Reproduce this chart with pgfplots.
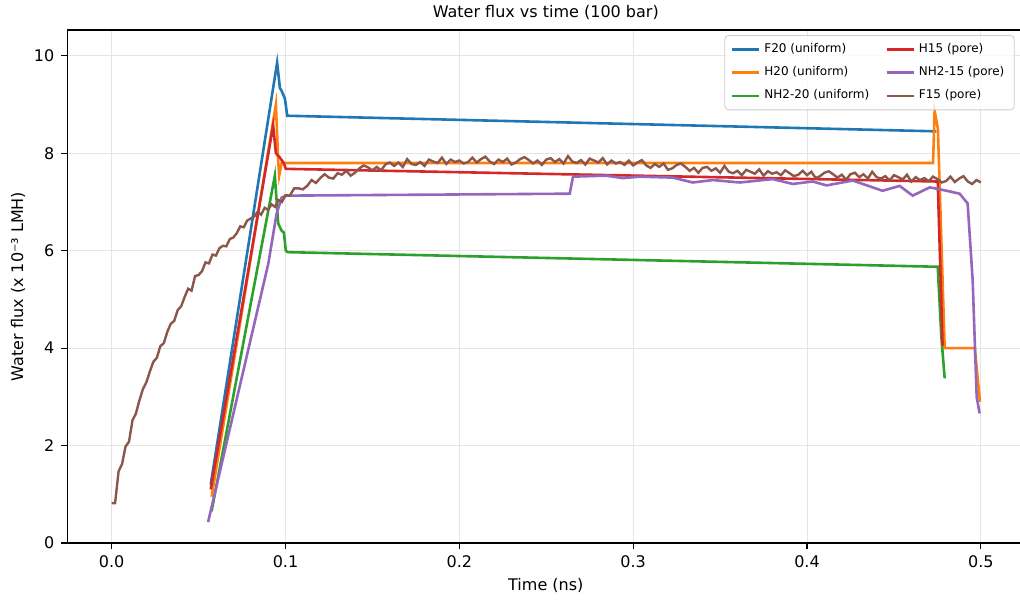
\documentclass[border=0pt]{standalone}
\usepackage{fontspec}
\setmainfont{DejaVu Sans}
\usepackage{pgfplots}
\pgfplotsset{compat=1.18}
\definecolor{tabblue}{HTML}{1F77B4}
\definecolor{taborange}{HTML}{FF7F0E}
\definecolor{tabgreen}{HTML}{2CA02C}
\definecolor{tabred}{HTML}{D62728}
\definecolor{tabpurple}{HTML}{9467BD}
\definecolor{tabbrown}{HTML}{8C564B}
\begin{document}
\begin{tikzpicture}
\useasboundingbox (-33.65pt,-28.5pt) rectangle (476.35pt,271.5pt);
\begin{axis}[
  at={(0,0)}, anchor=south west,
  scale only axis, width=478.5pt, height=256.5pt,
  xmin=-0.0255, xmax=0.525, ymin=0, ymax=10.53,
  xtick={0,0.1,0.2,0.3,0.4,0.5},
  ytick={0,2,4,6,8,10},
  tick align=outside, xtick pos=left, ytick pos=left,
  major tick length=3pt,
  tick style={black, line width=0.6pt},
  axis line style={line width=0.6pt},
  grid=major, major grid style={line width=0.5pt, black!10},
  /pgf/number format/assume math mode=true,
  xticklabel style={/pgf/number format/.cd, fixed, fixed zerofill, precision=1},
  ticklabel style={font=\fontsize{8}{9.6}\selectfont},
  title={Water flux vs time (100 bar)},
  title style={font=\fontsize{8}{9.6}\selectfont, yshift=-4.5pt},
  xlabel={Time (ns)}, ylabel={Water flux (x 10⁻³ LMH)},
  label style={font=\fontsize{8}{9.6}\selectfont},
  xlabel style={yshift=2pt},
  ylabel style={yshift=-2.5pt},
  legend columns=2,
  legend cell align=left,
  legend image code/.code={\draw[#1] (0pt,0pt) -- (13.5pt,0pt);},
  legend style={at={(0.99,0.99)}, anchor=north east,
    font=\fontsize{6}{7.2}\selectfont, draw=black!20, rounded corners=2pt,
    fill=white, fill opacity=0.8, text opacity=1,
    row sep=1.5pt, inner xsep=3pt, inner ysep=2pt,
    /tikz/every even column/.append style={column sep=6pt}},
  every axis plot/.append style={line width=1.3pt},
]
\addlegendimage{tabblue, line width=1.3pt}\addlegendentry{F20 (uniform)}
\addlegendimage{tabred, line width=1.3pt}\addlegendentry{H15 (pore)}
\addlegendimage{taborange, line width=1.3pt}\addlegendentry{H20 (uniform)}
\addlegendimage{tabpurple, line width=1.3pt}\addlegendentry{NH2-15 (pore)}
\addlegendimage{tabgreen, line width=1.3pt}\addlegendentry{NH2-20 (uniform)}
\addlegendimage{tabbrown, line width=1.3pt}\addlegendentry{F15 (pore)}

% F20 (uniform)
\addplot[tabblue, forget plot] coordinates {
(0.057,1.2) (0.0952,9.86) (0.0968,9.34) (0.0978,9.28) (0.0997,9.12) (0.1010,8.77) (0.4744,8.45)
};
% H20 (uniform)
\addplot[taborange, forget plot] coordinates {
(0.0575,0.95) (0.0945,9.0) (0.0958,7.85) (0.0964,7.54) (0.0978,7.80) (0.4725,7.80) (0.4734,8.87) (0.4753,8.5) (0.4792,4.0) (0.4965,4.0) (0.4995,2.9)
};
% NH2-20 (uniform)
\addplot[tabgreen, forget plot] coordinates {
(0.0575,0.65) (0.0939,7.54) (0.0958,6.56) (0.0978,6.41) (0.0991,6.37) (0.1002,6.0) (0.1012,5.97) (0.4752,5.67) (0.4773,4.22) (0.4792,3.38)
};
% H15 (pore)
\addplot[tabred, forget plot] coordinates {
(0.057,1.1) (0.0929,8.57) (0.0945,8.0) (0.0968,7.91) (0.0991,7.79) (0.1002,7.68) (0.4752,7.42) (0.4780,4.05)
};
% NH2-15 (pore)
\addplot[tabpurple, forget plot] coordinates {
(0.0555,0.43) (0.0901,5.73) (0.0949,6.76) (0.0978,7.09) (0.1006,7.13) (0.2635,7.17) (0.2654,7.52)
(0.2846,7.54) (0.294,7.49) (0.3038,7.52) (0.3228,7.5) (0.3343,7.40) (0.3458,7.45) (0.3613,7.40)
(0.3803,7.47) (0.3918,7.37) (0.4033,7.42) (0.4113,7.34) (0.4263,7.44) (0.4435,7.23) (0.4533,7.33)
(0.4608,7.13) (0.4706,7.30) (0.4803,7.23) (0.4878,7.17) (0.4924,6.97) (0.4953,5.39) (0.4976,3.0) (0.4993,2.66)
};
% F15 (pore)
\addplot[tabbrown, forget plot, line width=1.2pt] table {
x y
0.000 0.82
0.002 0.82
0.004 1.47
0.006 1.62
0.008 1.98
0.010 2.08
0.012 2.52
0.014 2.66
0.016 2.93
0.018 3.16
0.020 3.30
0.022 3.52
0.024 3.72
0.026 3.80
0.028 4.04
0.030 4.10
0.032 4.33
0.034 4.50
0.036 4.56
0.038 4.78
0.040 4.86
0.042 5.05
0.044 5.22
0.046 5.18
0.048 5.48
0.050 5.50
0.052 5.58
0.054 5.76
0.056 5.74
0.058 5.92
0.060 5.90
0.062 6.05
0.064 6.10
0.066 6.09
0.068 6.24
0.070 6.27
0.072 6.36
0.074 6.50
0.076 6.48
0.078 6.62
0.080 6.66
0.082 6.70
0.084 6.80
0.086 6.74
0.088 6.88
0.090 6.84
0.092 6.95
0.094 6.90
0.096 7.04
0.098 7.00
0.1000 7.14
0.1025 7.13
0.1050 7.28
0.1075 7.28
0.1100 7.26
0.1125 7.33
0.1150 7.45
0.1175 7.39
0.1200 7.49
0.1225 7.57
0.1250 7.50
0.1275 7.48
0.1300 7.59
0.1325 7.56
0.1350 7.64
0.1375 7.54
0.1400 7.60
0.1425 7.69
0.1450 7.75
0.1475 7.71
0.1500 7.65
0.1525 7.72
0.1550 7.65
0.1575 7.77
0.1600 7.81
0.1625 7.74
0.1650 7.81
0.1675 7.72
0.1700 7.88
0.1725 7.78
0.1750 7.76
0.1775 7.82
0.1800 7.74
0.1825 7.87
0.1850 7.83
0.1875 7.80
0.1900 7.91
0.1925 7.78
0.1950 7.87
0.1975 7.82
0.2000 7.85
0.2025 7.79
0.2050 7.82
0.2075 7.91
0.2100 7.81
0.2125 7.88
0.2150 7.93
0.2175 7.83
0.2200 7.78
0.2225 7.87
0.2250 7.82
0.2275 7.89
0.2300 7.77
0.2325 7.81
0.2350 7.88
0.2375 7.92
0.2400 7.86
0.2425 7.79
0.2450 7.85
0.2475 7.76
0.2500 7.87
0.2525 7.90
0.2550 7.82
0.2575 7.88
0.2600 7.79
0.2625 7.94
0.2650 7.83
0.2675 7.80
0.2700 7.86
0.2725 7.77
0.2750 7.89
0.2775 7.85
0.2800 7.81
0.2825 7.90
0.2850 7.77
0.2875 7.85
0.2900 7.79
0.2925 7.82
0.2950 7.76
0.2975 7.85
0.3000 7.75
0.3025 7.81
0.3050 7.86
0.3075 7.75
0.3100 7.70
0.3125 7.78
0.3150 7.72
0.3175 7.79
0.3200 7.66
0.3225 7.69
0.3250 7.76
0.3275 7.79
0.3300 7.72
0.3325 7.64
0.3350 7.70
0.3375 7.60
0.3400 7.70
0.3425 7.72
0.3450 7.64
0.3475 7.69
0.3500 7.60
0.3525 7.74
0.3550 7.62
0.3575 7.59
0.3600 7.64
0.3625 7.55
0.3650 7.66
0.3675 7.62
0.3700 7.58
0.3725 7.67
0.3750 7.54
0.3775 7.63
0.3800 7.58
0.3825 7.61
0.3850 7.55
0.3875 7.65
0.3900 7.59
0.3925 7.53
0.3950 7.56
0.3975 7.64
0.4000 7.55
0.4025 7.62
0.4050 7.49
0.4075 7.53
0.4100 7.60
0.4125 7.63
0.4150 7.57
0.4175 7.50
0.4200 7.56
0.4225 7.46
0.4250 7.57
0.4275 7.60
0.4300 7.51
0.4325 7.57
0.4350 7.48
0.4375 7.62
0.4400 7.51
0.4425 7.48
0.4450 7.53
0.4475 7.44
0.4500 7.55
0.4525 7.51
0.4550 7.46
0.4575 7.56
0.4600 7.42
0.4625 7.51
0.4650 7.45
0.4675 7.49
0.4700 7.43
0.4725 7.52
0.4750 7.47
0.4775 7.40
0.4800 7.43
0.4825 7.52
0.4850 7.41
0.4875 7.48
0.4900 7.53
0.4925 7.42
0.4950 7.37
0.4975 7.45
0.5000 7.40
};
\end{axis}
\end{tikzpicture}
\end{document}
